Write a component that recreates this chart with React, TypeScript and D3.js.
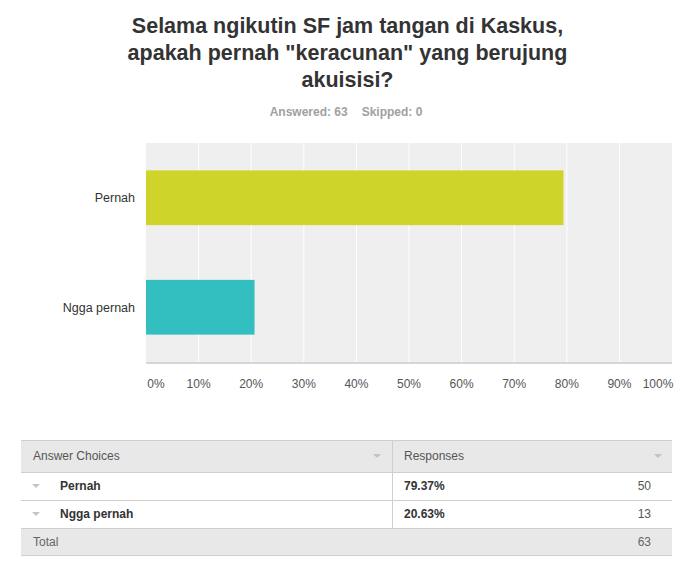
import React from "react";
import * as d3 from "d3";

const titleLines = [
  "Selama ngikutin SF jam tangan di Kaskus,",
  "apakah pernah \"keracunan\" yang berujung",
  "akuisisi?",
];
const answered = 63;
const skipped = 0;
const categories = ["Pernah", "Ngga pernah"];
const percents = [79.37, 20.63];
const counts = [50, 13];
const barColors = ["#cfd42a", "#33bfc0"];
const xTicks = [0, 10, 20, 30, 40, 50, 60, 70, 80, 90, 100];

const W = 687;
const H = 579;
const FONT = "Arial, 'Liberation Sans', Helvetica, sans-serif";

export default function App() {
  const plot = { left: 146, right: 672, top: 143, bottom: 362 };
  const x = d3.scaleLinear().domain([0, 100]).range([plot.left, plot.right]);
  const y = d3
    .scaleBand<string>()
    .domain(categories)
    .range([plot.top, plot.bottom])
    .paddingInner(0.5)
    .paddingOuter(0.25);

  const table = { left: 21, right: 672, mid: 392 };
  const rowsY = [440, 472, 500, 528, 555];
  const tri = (cx: number, cy: number, s = 4) =>
    `M${cx - s},${cy - s / 2} L${cx + s},${cy - s / 2} L${cx},${cy + s / 2} Z`;

  return (
    <svg
      width={W}
      height={H}
      style={{ position: "absolute", left: 0, top: 0, background: "#fff" }}
      fontFamily={FONT}
    >
      {titleLines.map((t, i) => (
        <text
          key={i}
          x={347.5}
          y={32.5 + i * 27}
          textAnchor="middle"
          fontSize={21.5}
          fontWeight="bold"
          fill="#333"
        >
          {t}
        </text>
      ))}
      <text x={346} y={116} textAnchor="middle" fontSize={12} fontWeight="bold" fill="#a0a0a0">
        {`Answered: ${answered}`}
        <tspan dx={14}>{`Skipped: ${skipped}`}</tspan>
      </text>

      <rect
        x={plot.left}
        y={plot.top}
        width={plot.right - plot.left}
        height={plot.bottom - plot.top}
        fill="#efefef"
      />
      {xTicks.slice(1, -1).map((t) => (
        <line key={t} x1={x(t)} x2={x(t)} y1={plot.top} y2={plot.bottom} stroke="#fff" strokeWidth={1} />
      ))}
      <line x1={plot.left} x2={plot.right} y1={plot.bottom + 1} y2={plot.bottom + 1} stroke="#d6d6d6" strokeWidth={2} />
      {categories.map((c, i) => (
        <g key={c}>
          <rect
            x={x(0)}
            y={y(c)!}
            width={x(percents[i]) - x(0)}
            height={y.bandwidth()}
            fill={barColors[i]}
          />
          <text
            x={plot.left - 11}
            y={y(c)! + y.bandwidth() / 2}
            dy="0.35em"
            textAnchor="end"
            fontSize={12.5}
            fill="#333"
          >
            {c}
          </text>
        </g>
      ))}
      {xTicks.map((t) => (
        <text
          key={t}
          x={t === 100 ? x(t) - 14 : t === 0 ? x(t) + 10 : x(t)}
          y={384}
          dy="0.35em"
          textAnchor="middle"
          fontSize={12}
          fill="#555"
        >
          {`${t}%`}
        </text>
      ))}

      {/* table */}
      <rect x={table.left} y={rowsY[0]} width={table.right - table.left} height={rowsY[1] - rowsY[0]} fill="#e8e8e8" />
      <rect x={table.left} y={rowsY[3]} width={table.right - table.left} height={rowsY[4] - rowsY[3]} fill="#e8e8e8" />
      {rowsY.map((ry, i) => (
        <line key={i} x1={table.left} x2={table.right} y1={ry + 0.5} y2={ry + 0.5} stroke="#cfcfcf" />
      ))}
      <line x1={table.mid + 0.5} x2={table.mid + 0.5} y1={rowsY[0]} y2={rowsY[3]} stroke="#cfcfcf" />
      <text x={33} y={(rowsY[0] + rowsY[1]) / 2} dy="0.35em" fontSize={12} fill="#555">Answer Choices</text>
      <path d={tri(377, 456)} fill="#c4c4c4" />
      <text x={404} y={(rowsY[0] + rowsY[1]) / 2} dy="0.35em" fontSize={12} fill="#555">Responses</text>
      <path d={tri(658, 456)} fill="#c4c4c4" />
      {categories.map((c, i) => {
        const cy = (rowsY[i + 1] + rowsY[i + 2]) / 2;
        return (
          <g key={c}>
            <path d={tri(36, cy)} fill="#c4c4c4" />
            <text x={60} y={cy} dy="0.35em" fontSize={12} fontWeight="bold" fill="#333">{c}</text>
            <text x={404} y={cy} dy="0.35em" fontSize={12} fontWeight="bold" fill="#333">
              {`${percents[i].toFixed(2)}%`}
            </text>
            <text x={651} y={cy} dy="0.35em" textAnchor="end" fontSize={12} fill="#555">{counts[i]}</text>
          </g>
        );
      })}
      <text x={33} y={(rowsY[3] + rowsY[4]) / 2} dy="0.35em" fontSize={12} fill="#666">Total</text>
      <text x={651} y={(rowsY[3] + rowsY[4]) / 2} dy="0.35em" textAnchor="end" fontSize={12} fill="#666">
        {d3.sum(counts)}
      </text>
    </svg>
  );
}
